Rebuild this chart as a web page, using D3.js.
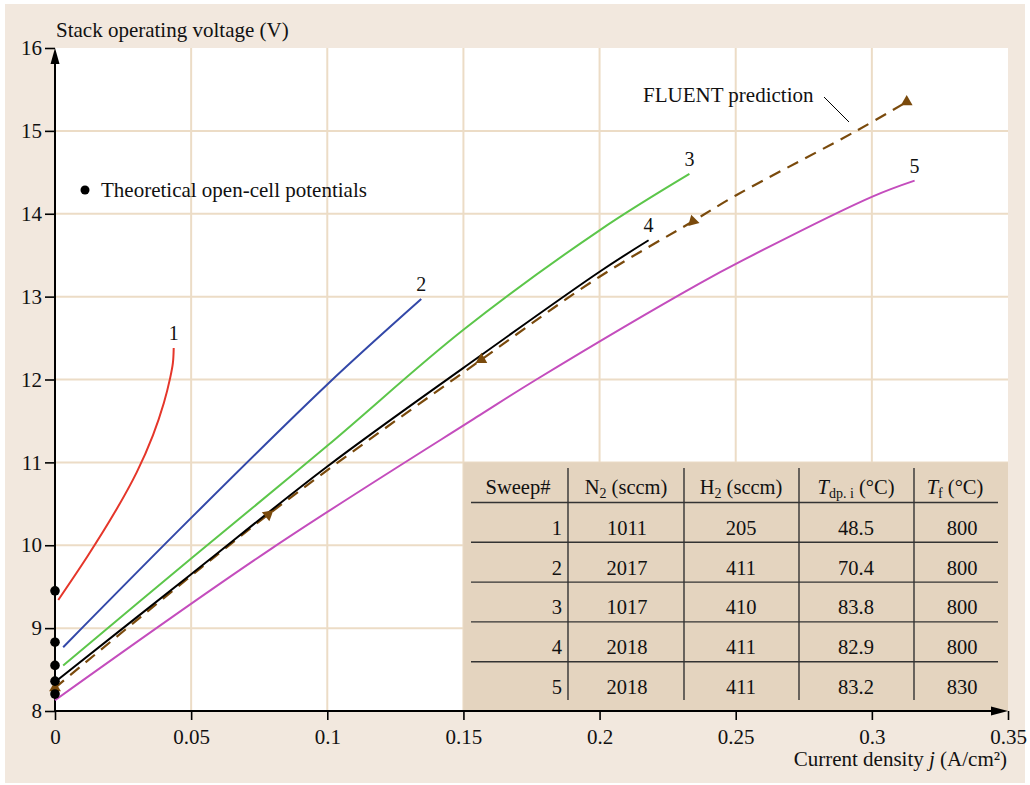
<!DOCTYPE html>
<html><head><meta charset="utf-8">
<script src="https://cdn.jsdelivr.net/npm/d3@7"></script>
<style>body{margin:0;background:#fff}svg{display:block}text{font-family:"Liberation Serif","Times New Roman",serif;fill:#111}</style>
</head><body><svg id="c" width="1030" height="785"></svg>
<script>
// ---- data ----
const xTicks = [0, 0.05, 0.1, 0.15, 0.2, 0.25, 0.3, 0.35];
const xTickLabels = ["0", "0.05", "0.1", "0.15", "0.2", "0.25", "0.3", "0.35"];
const yTicks = [8, 9, 10, 11, 12, 13, 14, 15, 16];
const yTickLabels = ["8", "9", "10", "11", "12", "13", "14", "15", "16"];

const sweep1X = [0.0012, 0.012, 0.022, 0.03, 0.036, 0.04, 0.0423, 0.0433, 0.0436];
const sweep1Y = [9.34, 9.87, 10.4, 10.88, 11.33, 11.72, 12.02, 12.2, 12.38];
const sweep2X = [0.003, 0.05, 0.1, 0.1345];
const sweep2Y = [8.77, 10.33, 11.94, 12.97];
const sweep3X = [0.003, 0.05, 0.1, 0.15, 0.2, 0.233];
const sweep3Y = [8.55, 9.84, 11.2, 12.6, 13.8, 14.48];
const sweep4X = [0, 0.05, 0.1, 0.15, 0.2, 0.218];
const sweep4Y = [8.35, 9.65, 10.95, 12.14, 13.3, 13.68];
const sweep5X = [0, 0.0795, 0.156, 0.1768, 0.2368, 0.2527, 0.3004, 0.3157];
const sweep5Y = [8.13, 9.96, 11.57, 12.0, 13.16, 13.44, 14.21, 14.4];
const fluentX = [0, 0.0783, 0.1566, 0.2, 0.2343, 0.25, 0.2943, 0.3128];
const fluentY = [8.28, 10.37, 12.24, 13.24, 13.91, 14.22, 15.0, 15.35];
const fluentMarkerIdx = [0, 1, 2, 4, 7];
const fluentMarkerAngle = [0, -70, 0, -135, 0];
const openCellY = [9.45, 8.83, 8.55, 8.36, 8.205];

const seriesNames = ["1", "2", "3", "4", "5"];
const seriesColors = ["#e5362a", "#3348a8", "#5cc64a", "#000000", "#c44dbd"];

const tableHeader = ["Sweep#", "N2", "H2", "Tdp", "Tf"];
const tableSweep = ["1", "2", "3", "4", "5"];
const tableN2 = ["1011", "2017", "1017", "2018", "2018"];
const tableH2 = ["205", "411", "410", "411", "411"];
const tableTdp = ["48.5", "70.4", "83.8", "82.9", "83.2"];
const tableTf = ["800", "800", "800", "800", "830"];

// ---- layout ----
const svg = d3.select("#c");
const x = d3.scaleLinear().domain([0, 0.35]).range([55, 1008]);
const y = d3.scaleLinear().domain([8, 16]).range([711, 48]);
const bg = "#f2e8de", grid = "#ecdcc6", tableBg = "#e4d4bf";

svg.append("rect").attr("x", 5).attr("y", 4).attr("width", 1020).attr("height", 779).attr("fill", bg);
svg.append("rect").attr("x", x(0)).attr("y", y(16)).attr("width", x(0.35) - x(0)).attr("height", y(8) - y(16)).attr("fill", "#fff");

// grid
svg.append("g").selectAll("line").data(xTicks.slice(1, -1)).join("line")
  .attr("x1", d => x(d)).attr("x2", d => x(d)).attr("y1", y(16)).attr("y2", y(8))
  .attr("stroke", grid).attr("stroke-width", 2);
svg.append("g").selectAll("line").data(yTicks.slice(1, -1)).join("line")
  .attr("y1", d => y(d)).attr("y2", d => y(d)).attr("x1", x(0)).attr("x2", x(0.35))
  .attr("stroke", grid).attr("stroke-width", 2);

// table background
const tbl = svg.append("g");
tbl.append("rect").attr("x", x(0.15)).attr("y", y(11)).attr("width", x(0.35) - x(0.15)).attr("height", y(8) - y(11)).attr("fill", tableBg);

// axes
const xAxis = d3.axisBottom(x).tickValues(xTicks).tickFormat((d, i) => xTickLabels[i]).tickSize(9).tickPadding(6);
const yAxis = d3.axisLeft(y).tickValues(yTicks).tickFormat((d, i) => yTickLabels[i]).tickSize(10).tickPadding(3);
const gx = svg.append("g").attr("transform", `translate(0,${y(8)})`).call(xAxis);
const gy = svg.append("g").attr("transform", `translate(${x(0)},0)`).call(yAxis);
[gx, gy].forEach(g => {
  g.select(".domain").remove();
  g.selectAll(".tick line").attr("stroke", "#000").attr("stroke-width", 1.6);
  g.selectAll(".tick text").attr("font-size", 21).attr("fill", "#111").attr("font-family", "Liberation Serif, serif");
});
gx.selectAll(".tick text").attr("dy", "0.85em");
svg.append("line").attr("x1", x(0)).attr("x2", x(0.35) - 10).attr("y1", y(8)).attr("y2", y(8)).attr("stroke", "#000").attr("stroke-width", 2);
svg.append("line").attr("x1", x(0)).attr("x2", x(0)).attr("y1", y(8)).attr("y2", y(16) + 10).attr("stroke", "#000").attr("stroke-width", 2);
svg.append("path").attr("d", `M${x(0.35)},${y(8)} l-17,-4.5 l0,9 z`).attr("fill", "#000");
svg.append("path").attr("d", `M${x(0)},${y(16)} l-4.5,16 l9,0 z`).attr("fill", "#000");

svg.append("text").attr("x", 56).attr("y", 37).attr("font-size", 21).text("Stack operating voltage (V)");
const xt = svg.append("text").attr("x", 1007).attr("y", 766).attr("font-size", 21).attr("text-anchor", "end");
xt.append("tspan").text("Current density ");
xt.append("tspan").attr("font-style", "italic").text("j");
xt.append("tspan").text(" (A/cm²)");

// table lines
const colLines = [568, 684, 799, 914];
const rowStep = 39.8, headerBase = 494, lineTop = 502.5;
tbl.selectAll("line.v").data(colLines).join("line").attr("class", "v")
  .attr("x1", d => d).attr("x2", d => d).attr("y1", 468).attr("y2", 700).attr("stroke", "#333").attr("stroke-width", 1.4);
tbl.selectAll("line.h").data(d3.range(5)).join("line").attr("class", "h")
  .attr("x1", 471).attr("x2", 998).attr("y1", d => lineTop + d * rowStep).attr("y2", d => lineTop + d * rowStep)
  .attr("stroke", "#333").attr("stroke-width", 1.4);
const fs = 20.5;
function hdr(xp, parts) {
  const t = tbl.append("text").attr("x", xp).attr("y", headerBase).attr("font-size", fs).attr("text-anchor", "middle");
  parts.forEach(p => {
    const s = t.append("tspan").text(p.t);
    if (p.sub) s.attr("font-size", 14).attr("dy", 4);
    if (p.up) s.attr("dy", -4);
    if (p.it) s.attr("font-style", "italic");
  });
}
hdr(518, [{t: tableHeader[0]}]);
hdr(626, [{t: "N"}, {t: "2", sub: 1}, {t: " (sccm)", up: 1}]);
hdr(741, [{t: "H"}, {t: "2", sub: 1}, {t: " (sccm)", up: 1}]);
hdr(856, [{t: "T", it: 1}, {t: "dp. i", sub: 1}, {t: " (°C)", up: 1}]);
hdr(955, [{t: "T", it: 1}, {t: "f", sub: 1}, {t: " (°C)", up: 1}]);
const cols = [[tableSweep, 562, "end"], [tableN2, 627, "middle"], [tableH2, 741, "middle"], [tableTdp, 856, "middle"], [tableTf, 962, "middle"]];
cols.forEach(([arr, xp, anc]) => {
  tbl.append("g").selectAll("text").data(arr).join("text")
    .attr("x", xp).attr("y", (d, i) => headerBase + (i + 1) * rowStep + 1)
    .attr("font-size", fs).attr("text-anchor", anc).text(d => d);
});

// curves
const line = d3.line().x(d => x(d[0])).y(d => y(d[1])).curve(d3.curveCatmullRom.alpha(0.5));
const seriesX = [sweep1X, sweep2X, sweep3X, sweep4X, sweep5X];
const seriesY = [sweep1Y, sweep2Y, sweep3Y, sweep4Y, sweep5Y];
// fluent dashed
const fpts = fluentX.map((v, i) => [v, fluentY[i]]);
svg.append("path").attr("d", line(fpts)).attr("fill", "none").attr("stroke", "#7a4a0c").attr("stroke-width", 2.2).attr("stroke-dasharray", "12,8");
seriesX.forEach((sx, k) => {
  const pts = sx.map((v, i) => [v, seriesY[k][i]]);
  svg.append("path").attr("d", line(pts)).attr("fill", "none").attr("stroke", seriesColors[k]).attr("stroke-width", 2);
  const last = pts[pts.length - 1];
  svg.append("text").attr("x", x(last[0])).attr("y", y(last[1]) - 8).attr("font-size", 20).attr("text-anchor", "middle").text(seriesNames[k]);
});
const tri = d3.symbol().type(d3.symbolTriangle).size(60);
svg.append("g").selectAll("path").data(fluentMarkerIdx).join("path")
  .attr("d", tri).attr("fill", "#7a4a0c")
  .attr("transform", (d, i) => `translate(${x(fluentX[d])},${y(fluentY[d])}) rotate(${fluentMarkerAngle[i]})`);

// open-cell dots
svg.append("g").selectAll("circle").data(openCellY).join("circle")
  .attr("cx", x(0)).attr("cy", d => y(d)).attr("r", 4.8).attr("fill", "#000");
svg.append("circle").attr("cx", 85).attr("cy", 190).attr("r", 4.5).attr("fill", "#000");
svg.append("text").attr("x", 101).attr("y", 197).attr("font-size", 21).text("Theoretical open-cell potentials");

// FLUENT label
svg.append("text").attr("x", 643).attr("y", 102).attr("font-size", 21).text("FLUENT prediction");
svg.append("line").attr("x1", 824).attr("y1", 97).attr("x2", 849).attr("y2", 122).attr("stroke", "#000").attr("stroke-width", 1);
</script></body></html>
